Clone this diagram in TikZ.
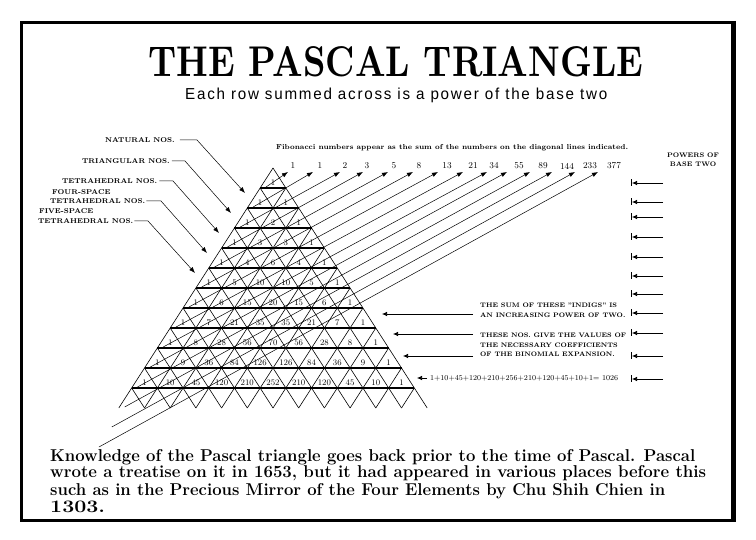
\documentclass[tikz,border=0pt]{standalone}
\usepackage{fontspec}
\usepackage{graphicx}
\usetikzlibrary{arrows.meta}
\newfontfamily\subsans[FakeStretch=0.78,LetterSpace=9]{Liberation Sans}
\begin{document}
\begin{tikzpicture}[x=1pt,y=-1pt,
  lat/.style={line width=0.6pt},
  hor/.style={line width=1.1pt},
  fib/.style={line width=0.5pt,-{Latex[length=6pt,width=4.5pt]}},
  lead/.style={line width=0.5pt,-{Latex[length=6pt,width=4.5pt]}},
  powln/.style={line width=0.7pt,-{Latex[length=5pt,width=4.5pt]}},
  lblf/.style={font=\fontsize{7}{9}\selectfont\bfseries, inner sep=0},
  num/.style={font=\fontsize{8.5}{9}\selectfont, inner sep=0},
  fibn/.style={font=\fontsize{9}{10}\selectfont, inner sep=0},
  para/.style={inner sep=0, anchor=base west}]
\useasboundingbox (0,0) rectangle (756,540);
\fill[white] (0,0) rectangle (756,540);
% frame
\draw[line width=3pt] (21.5,22.5) rectangle (733,520.5);
\draw[line width=5pt] (733,21) -- (733,522);
% title
\node[inner sep=0, anchor=north west] (title) at (148,46) {\resizebox{495pt}{30pt}{\bfseries THE PASCAL TRIANGLE}};
\node[inner sep=0, anchor=north west] (sub) at (185,88) {\resizebox{422pt}{11.5pt}{\subsans Each row summed across is a power of the base two}};
\node[inner sep=0, anchor=west] (fibcap) at (276,148) {\resizebox{352pt}{!}{\fontsize{7}{8}\selectfont\bfseries Fibonacci numbers appear as the sum of the numbers on the diagonal lines indicated.}};
% lattice
\foreach \r in {1,...,11}{
  \draw[hor] ({273-\r*12.85},{168+\r*20}) -- ({273+\r*12.85},{168+\r*20});
}
\foreach \j in {0,...,11}{
  \draw[lat] ({273+\j*12.85},{168+\j*20}) -- ({273+\j*25.7-154.2},408);
}
\foreach \m in {0,...,11}{
  \draw[lat] ({273-\m*12.85},{168+\m*20}) -- ({273+154.2-\m*25.7},408);
}
% numbers
\foreach \row [count=\n from 0] in {{1},{1,1},{1,2,1},{1,3,3,1},{1,4,6,4,1},{1,5,10,10,5,1},{1,6,15,20,15,6,1},{1,7,21,35,35,21,7,1},{1,8,28,56,70,56,28,8,1},{1,9,36,84,126,126,84,36,9,1},{1,10,45,120,210,252,210,120,45,10,1}}{
  \foreach \v [count=\k from 0] in \row {
    \node[num] (p\n k\k) at ({273+(\k-\n/2)*25.7},{182.5+\n*20}) {\v};
  }
}
% fibonacci diagonals
\foreach \n/\tx/\lx/\lab in {0/288/293/1,1/313/320/1,2/340/345/2,3/363/367/3,4/388/394/5,5/413/419/8,6/438/447/13,7/463/473/21,8/487/494/34,9/507/519/55,10/530/543/89,11/552/567/144,12/575/590/233,13/598/614/377}{
  \coordinate (fs\n) at ({273-\n*12.85-7},{183+\n*20+4});
  \coordinate (ft\n) at (\tx,172);
  \node[fibn] (fl\n) at (\lx,166) {\lab};
  \draw[fib] (fs\n) -- (ft\n);
}
% left labels
\node[lblf, anchor=west] (nat) at (105,140) {NATURAL NOS.};
\node[lblf, anchor=west] (tri) at (82,161) {TRIANGULAR NOS.};
\node[lblf, anchor=west] (tet) at (62,181) {TETRAHEDRAL NOS.};
\node[lblf, anchor=west] (fourA) at (52,192) {FOUR-SPACE};
\node[lblf, anchor=west] (four) at (50,201) {TETRAHEDRAL NOS.};
\node[lblf, anchor=west] (fiveA) at (39,211) {FIVE-SPACE};
\node[lblf, anchor=west] (five) at (38,221) {TETRAHEDRAL NOS.};
\coordinate (natb) at (197,140); \coordinate (natt) at (245,193);
\coordinate (trib) at (185,161); \coordinate (trit) at (231,213);
\coordinate (tetb) at (173,181); \coordinate (tett) at (219,233);
\coordinate (fourb) at (161,201); \coordinate (fourt) at (207,253);
\coordinate (fiveb) at (148,221); \coordinate (fivet) at (195,273);
\draw[lead] ([xshift=5pt]nat.east) -- (natb) -- (natt);
\draw[lead] ([xshift=2pt]tri.east) -- (trib) -- (trit);
\draw[lead] ([xshift=2pt]tet.east) -- (tetb) -- (tett);
\draw[lead] ([xshift=1pt]four.east) -- (fourb) -- (fourt);
\draw[lead] ([xshift=1pt]five.east) -- (fiveb) -- (fivet);
% powers of two column
\node[lblf, align=center, font=\fontsize{6.6}{9}\selectfont\bfseries] (pow) at (693,160) {POWERS OF\\BASE TWO};
\foreach \y [count=\i] in {183,202,217,237,257,276,294,313,333,356,379}{
  \coordinate (pa\i) at (663,\y);
  \coordinate (pb\i) at (632,\y);
  \draw[powln] (pa\i) -- (pb\i);
  \draw[line width=0.7pt] (631.5,\y-3.5) -- (631.5,\y+3.5);
}
% middle notes
\node[lblf, anchor=north west, align=left, font=\fontsize{6.5}{10}\selectfont\bfseries] (sum) at (480,303) {THE SUM OF THESE "INDIGS" IS\\AN INCREASING POWER OF TWO.};
\node[lblf, anchor=north west, align=left, font=\fontsize{6.5}{9.3}\selectfont\bfseries] (coef) at (480,333) {THESE NOS. GIVE THE VALUES OF\\THE NECESSARY COEFFICIENTS\\OF THE BINOMIAL EXPANSION.};
\coordinate (ma1) at (473,314); \coordinate (mb1) at (382,314);
\coordinate (ma2) at (473,334); \coordinate (mb2) at (393,334);
\coordinate (ma3) at (473,356); \coordinate (mb3) at (403,356);
\draw[powln] (ma1) -- (mb1);
\draw[powln] (ma2) -- (mb2);
\draw[powln] (ma3) -- (mb3);
\node[inner sep=0, anchor=west] (sumline) at (430,378) {\resizebox{188pt}{!}{\fontsize{8}{9}\selectfont 1+10+45+120+210+256+210+120+45+10+1= 1026}};
\coordinate (sa) at (417,378);
\draw[powln] ([xshift=-3pt]sumline.west) -- (sa);
% paragraph
\node[para] (l1) at (50,461) {\resizebox{645pt}{12pt}{\bfseries\fontsize{15}{17}\selectfont Knowledge of the Pascal triangle goes back prior to the time of Pascal. Pascal}};
\node[para] (l2) at (50,478) {\resizebox{656pt}{12pt}{\bfseries\fontsize{15}{17}\selectfont wrote a treatise on it in 1653, but it had appeared in various places before this}};
\node[para] (l3) at (50,495) {\resizebox{615pt}{12pt}{\bfseries\fontsize{15}{17}\selectfont such as in the Precious Mirror of the Four Elements by Chu Shih Chien in}};
\node[para] (l4) at (50,512) {\resizebox{55pt}{11.5pt}{\bfseries\fontsize{15}{17}\selectfont 1303.}};
\end{tikzpicture}
\end{document}
